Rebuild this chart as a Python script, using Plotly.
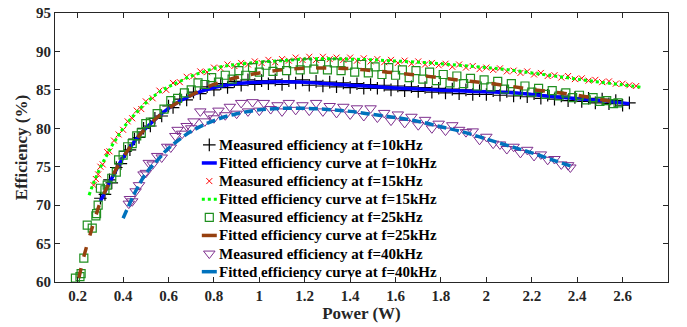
import plotly.graph_objects as go

# ---------------- data ----------------
# Measured efficiency, f = 10 kHz  (power W, efficiency %)
meas10 = [(0.30,70.9),(0.32,71.4),(0.34,73.3),(0.35,72.9),(0.37,74.9),(0.39,75.4),(0.41,77.0),(0.43,77.2),
          (0.45,78.6),(0.47,78.8),(0.49,80.0),(0.52,80.3),(0.54,81.3),(0.57,81.6),(0.60,82.9),(0.62,82.7),
          (0.65,83.8),(0.68,83.7),(0.71,84.7),(0.74,84.5),(0.77,85.4),(0.80,85.0),(0.83,85.8),(0.86,85.3),
          (0.89,86.1),(0.92,85.6),(0.95,86.3),(0.98,85.7),(1.01,86.2),(1.04,85.8),(1.07,86.3),(1.10,85.7),
          (1.13,86.2),(1.16,85.9),(1.19,86.3),(1.22,85.6),(1.25,86.1),(1.28,85.5),(1.31,86.0),(1.34,85.4),
          (1.37,85.9),(1.40,85.3),(1.43,85.8),(1.46,85.2),(1.49,85.7),(1.52,85.2),(1.55,85.6),(1.58,85.0),
          (1.61,85.5),(1.64,84.9),(1.67,85.4),(1.70,84.8),(1.73,85.3),(1.76,84.7),(1.79,85.2),(1.82,84.6),
          (1.85,85.1),(1.88,84.5),(1.91,85.0),(1.94,84.4),(1.97,84.9),(2.00,84.4),(2.03,84.9),(2.06,84.3),
          (2.09,84.8),(2.12,84.2),(2.15,84.6),(2.18,84.1),(2.21,84.5),(2.24,83.9),(2.27,84.3),(2.30,83.8),
          (2.33,84.2),(2.36,83.6),(2.39,84.0),(2.42,83.5),(2.45,83.9),(2.48,83.3),(2.51,83.8),(2.54,83.2),
          (2.57,83.6),(2.60,83.0),(2.63,83.3)]
fit10 = [(0.30,70.5),(0.35,73.5),(0.40,76.2),(0.45,78.3),(0.50,80.0),(0.60,82.6),(0.70,84.3),(0.80,85.3),
         (0.90,85.8),(1.00,86.0),(1.10,86.05),(1.20,86.0),(1.30,85.8),(1.40,85.6),(1.50,85.45),(1.60,85.25),
         (1.70,85.1),(1.80,84.95),(1.90,84.85),(2.00,84.75),(2.10,84.65),(2.20,84.4),(2.30,84.1),(2.40,83.85),
         (2.50,83.6),(2.63,83.2)]

# f = 15 kHz
meas15 = [(0.27,72.6),(0.28,73.4),(0.29,74.0),(0.30,75.0),(0.31,75.3),(0.33,76.9),(0.34,77.0),(0.36,78.4),
          (0.38,79.2),(0.40,79.8),(0.42,80.9),(0.44,81.3),(0.46,82.3),(0.48,82.5),(0.50,83.5),(0.53,83.9),
          (0.56,84.9),(0.59,85.0),(0.62,85.9),(0.65,86.0),(0.68,86.7),(0.71,86.8),(0.74,87.4),(0.77,87.3),
          (0.80,87.9),(0.83,87.8),(0.86,88.3),(0.89,88.1),(0.92,88.5),(0.95,88.3),(0.98,88.7),(1.01,88.5),
          (1.04,88.9),(1.07,88.6),(1.10,89.0),(1.13,88.8),(1.16,89.2),(1.19,88.9),(1.22,89.3),(1.25,88.9),
          (1.28,89.3),(1.31,89.0),(1.34,89.2),(1.37,88.9),(1.40,89.2),(1.43,88.8),(1.46,89.1),(1.49,88.7),
          (1.52,89.0),(1.55,88.6),(1.58,88.9),(1.61,88.5),(1.64,88.8),(1.67,88.4),(1.70,88.7),(1.73,88.3),
          (1.76,88.5),(1.79,88.2),(1.82,88.4),(1.85,88.0),(1.88,88.3),(1.91,87.9),(1.94,88.1),(1.97,87.7),
          (2.00,87.9),(2.03,87.6),(2.06,87.8),(2.09,87.4),(2.12,87.5),(2.15,87.2),(2.18,87.4),(2.21,87.0),
          (2.24,87.2),(2.27,86.8),(2.30,86.9),(2.33,86.6),(2.36,86.8),(2.39,86.4),(2.42,86.5),(2.45,86.2),
          (2.48,86.3),(2.51,86.0),(2.54,86.1),(2.57,85.8),(2.60,85.8),(2.63,85.6),(2.66,85.5)]
fit15 = [(0.25,71.3),(0.27,72.9),(0.29,74.3),(0.31,75.5),(0.33,76.6),(0.35,77.7),(0.37,78.6),(0.40,80.0),
         (0.43,81.1),(0.46,82.1),(0.50,83.3),(0.55,84.5),(0.60,85.4),(0.65,86.1),(0.70,86.8),(0.75,87.3),
         (0.80,87.8),(0.85,88.1),(0.90,88.3),(1.00,88.6),(1.10,88.8),(1.20,89.0),(1.30,89.05),(1.40,89.0),
         (1.50,88.9),(1.60,88.75),(1.70,88.6),(1.80,88.4),(1.90,88.15),(2.00,87.9),(2.10,87.6),(2.20,87.2),
         (2.30,86.8),(2.40,86.4),(2.50,86.0),(2.60,85.65),(2.68,85.35)]

# f = 25 kHz
meas25 = [(0.19,60.5),(0.21,60.7),(0.215,61.1),(0.227,63.1),(0.242,67.4),(0.264,67.0),(0.28,68.6),(0.283,68.9),
          (0.29,70.0),(0.30,72.2),(0.32,72.0),(0.33,72.6),(0.35,73.5),(0.37,74.3),(0.38,75.9),(0.40,76.5),
          (0.42,77.6),(0.44,78.0),(0.46,79.0),(0.48,79.4),(0.50,80.6),(0.52,80.8),(0.55,81.9),(0.58,82.5),
          (0.61,83.6),(0.64,83.9),(0.67,84.6),(0.70,85.0),(0.73,85.9),(0.76,85.7),(0.79,86.6),(0.82,86.0),
          (0.85,86.9),(0.88,86.4),(0.91,87.5),(0.94,86.9),(0.97,87.9),(1.00,87.3),(1.03,88.2),(1.06,87.4),
          (1.09,88.3),(1.12,87.5),(1.15,88.4),(1.18,87.6),(1.21,88.5),(1.24,87.7),(1.27,88.3),(1.30,87.6),
          (1.33,88.5),(1.36,87.5),(1.39,88.2),(1.42,87.3),(1.45,88.3),(1.48,87.2),(1.51,88.0),(1.54,87.0),
          (1.57,87.9),(1.60,86.9),(1.63,87.6),(1.66,86.6),(1.69,87.5),(1.72,86.4),(1.75,87.3),(1.78,86.2),
          (1.81,87.0),(1.84,85.9),(1.87,86.8),(1.90,85.8),(1.93,86.5),(1.96,85.5),(1.99,86.3),(2.02,85.4),
          (2.05,86.1),(2.08,85.1),(2.11,85.8),(2.14,84.8),(2.17,85.5),(2.20,84.7),(2.23,85.2),(2.26,84.4),
          (2.29,84.9),(2.32,84.2),(2.35,84.6),(2.38,84.0),(2.41,84.3),(2.44,83.7),(2.47,84.0),(2.50,83.5),
          (2.53,83.6),(2.56,83.2),(2.58,83.3)]
fit25 = [(0.205,60.5),(0.227,63.3),(0.256,66.3),(0.286,69.2),(0.30,70.4),(0.35,73.6),(0.40,76.2),(0.45,78.3),
         (0.50,80.0),(0.60,82.6),(0.70,84.3),(0.80,85.7),(0.90,86.6),(1.00,87.2),(1.10,87.6),(1.20,87.8),
         (1.30,87.85),(1.40,87.75),(1.50,87.5),(1.60,87.2),(1.70,86.9),(1.80,86.55),(1.90,86.2),(2.00,85.9),
         (2.10,85.5),(2.20,85.05),(2.30,84.7),(2.40,84.3),(2.50,83.75),(2.58,83.35)]

# f = 40 kHz
meas40 = [(0.425,70.2),(0.43,70.8),(0.44,70.5),(0.455,71.8),(0.47,72.6),(0.49,74.0),(0.50,74.2),(0.513,75.5),
          (0.53,75.3),(0.55,76.4),(0.57,76.2),(0.594,77.6),(0.61,77.5),(0.63,79.0),(0.64,79.8),(0.66,79.3),
          (0.68,80.3),(0.70,80.0),(0.71,80.9),(0.74,82.2),(0.76,80.9),(0.78,81.8),(0.80,81.3),(0.82,82.3),
          (0.85,81.7),(0.87,82.8),(0.90,81.9),(0.92,83.3),(0.95,82.2),(0.97,83.4),(1.00,82.3),(1.02,83.3),
          (1.05,82.5),(1.08,83.0),(1.10,82.2),(1.13,83.3),(1.16,82.4),(1.19,83.0),(1.22,82.3),(1.25,83.3),
          (1.28,82.2),(1.31,82.9),(1.34,82.0),(1.37,82.8),(1.40,81.8),(1.43,82.6),(1.46,81.6),(1.49,82.6),
          (1.52,81.4),(1.55,82.0),(1.58,81.0),(1.61,81.8),(1.64,80.7),(1.67,81.5),(1.70,80.4),(1.73,81.1),
          (1.76,80.0),(1.79,80.6),(1.82,79.7),(1.85,80.4),(1.88,79.8),(1.91,79.5),(1.94,79.6),(1.97,78.5),
          (2.00,78.9),(2.03,78.0),(2.06,77.9),(2.09,77.3),(2.12,77.6),(2.15,76.8),(2.18,77.2),(2.21,76.4),
          (2.24,76.6),(2.27,75.9),(2.30,76.0),(2.33,75.3),(2.36,75.2),(2.37,74.9)]
fit40 = [(0.40,68.3),(0.45,71.5),(0.50,74.1),(0.55,75.8),(0.60,77.4),(0.70,79.6),(0.80,81.0),(0.90,81.9),
         (1.00,82.4),(1.10,82.6),(1.20,82.6),(1.30,82.45),(1.40,82.2),(1.50,81.8),(1.60,81.4),(1.70,80.9),
         (1.80,80.2),(1.90,79.5),(2.00,78.6),(2.10,77.7),(2.20,76.8),(2.30,75.8),(2.37,75.1)]

x_ticks = [0.2, 0.4, 0.6, 0.8, 1, 1.2, 1.4, 1.6, 1.8, 2, 2.2, 2.4, 2.6]
y_ticks = [60, 65, 70, 75, 80, 85, 90, 95]

names = ["Measured efficiency at f=10kHz", "Fitted efficiency curve at f=10kHz",
         "Measured efficiency at f=15kHz", "Fitted efficiency curve at f=15kHz",
         "Measured efficiency at f=25kHz", "Fitted efficiency curve at f=25kHz",
         "Measured efficiency at f=40kHz", "Fitted efficiency curve at f=40kHz"]

# ---------------- styles ----------------
W, H = 687, 327
ML, MR, MT, MB = 54.5, 18.7, 13.3, 45
PW, PH = W - ML - MR, H - MT - MB
font_family = "Liberation Serif, Times New Roman, serif"

styles = [
    dict(kind="m", symbol="cross-thin", color="black", size=9, lw=1.2),
    dict(kind="l", color="#0000FF", width=3.5, dash="solid", ldash="solid"),
    dict(kind="m", symbol="x-thin", color="#FF0000", size=6, lw=1),
    dict(kind="l", color="#00FF00", width=3, dash="dot", ldash="dot"),
    dict(kind="m", symbol="square-open", color="#1F8F1F", size=8, lw=1.2),
    dict(kind="l", color="#96400F", width=3.5, dash="10px,12px", ldash="solid"),
    dict(kind="m", symbol="triangle-down-open", color="#7E2F8E", size=10, lw=1),
    dict(kind="l", color="#0072BD", width=3.5, dash="9px,4px", ldash="solid"),
]
series = [meas10, fit10, meas15, fit15, meas25, fit25, meas40, fit40]

fig = go.Figure()
for pts, name, st in zip(series, names, styles):
    xs = [p[0] for p in pts]
    ys = [p[1] for p in pts]
    if st["kind"] == "m":
        fig.add_trace(go.Scatter(x=xs, y=ys, mode="markers", name=name, showlegend=False,
                                 marker=dict(symbol=st["symbol"], size=st["size"], color=st["color"],
                                             line=dict(color=st["color"], width=st["lw"]))))
    else:
        fig.add_trace(go.Scatter(x=xs, y=ys, mode="lines", name=name, showlegend=False,
                                 line=dict(color=st["color"], width=st["width"], dash=st["dash"],
                                           shape="spline")))

# ---------------- legend (custom, tight row spacing) ----------------
def px2x(px):
    return (px - ML) / PW

def py2y(py):
    return (H - MB - py) / PH

row0, row_step = 145, 18.1
glyph_l, glyph_r, glyph_c, text_x = 201.5, 216.5, 209, 217
annotations = []
for i, (name, st) in enumerate(zip(names, styles)):
    yy = py2y(row0 + row_step * i)
    if st["kind"] == "m":
        fig.add_trace(go.Scatter(x=[px2x(glyph_c)], y=[yy], xaxis="x2", yaxis="y2", mode="markers",
                                 showlegend=False, hoverinfo="skip",
                                 marker=dict(symbol=st["symbol"], size=st["size"], color=st["color"],
                                             line=dict(color=st["color"], width=st["lw"]))))
    else:
        fig.add_trace(go.Scatter(x=[px2x(glyph_l), px2x(glyph_r)], y=[yy, yy], xaxis="x2", yaxis="y2",
                                 mode="lines", showlegend=False, hoverinfo="skip",
                                 line=dict(color=st["color"], width=st["width"], dash=st["ldash"])))
    annotations.append(dict(text=name, x=px2x(text_x), y=yy, xref="paper", yref="paper",
                            xanchor="left", yanchor="middle", showarrow=False,
                            font=dict(family=font_family, size=15, color="black", weight="bold")))

axis_common = dict(showline=True, linecolor="#262626", linewidth=1, mirror="ticks",
                   ticks="inside", ticklen=5, tickcolor="#262626", showgrid=False, zeroline=False,
                   automargin=False,
                   tickfont=dict(family=font_family, size=15, color="#262626", weight="bold"))

fig.update_layout(
    width=W, height=H, autosize=False,
    margin=dict(l=ML, r=MR, t=MT, b=MB, pad=0, autoexpand=False),
    paper_bgcolor="white", plot_bgcolor="white",
    font=dict(family=font_family, color="black"),
    showlegend=False,
    annotations=annotations,
    xaxis=dict(range=[0.1, 2.8], tickvals=x_ticks, ticktext=[str(v) for v in x_ticks],
               title=dict(text="Power (W)", standoff=2,
                          font=dict(family=font_family, size=17, color="#262626", weight="bold")),
               **axis_common),
    yaxis=dict(range=[60, 95], tickvals=y_ticks,
               title=dict(text="Efficiency (%)", standoff=4,
                          font=dict(family=font_family, size=17, color="#262626", weight="bold")),
               **axis_common),
    xaxis2=dict(overlaying="x", anchor="y2", range=[0, 1], visible=False, fixedrange=True),
    yaxis2=dict(overlaying="y", anchor="x2", range=[0, 1], visible=False, fixedrange=True),
)

fig.write_html("out.html", config=dict(responsive=False, displayModeBar=False),
               post_script="document.body.style.margin='0';document.body.style.overflow='hidden';")
